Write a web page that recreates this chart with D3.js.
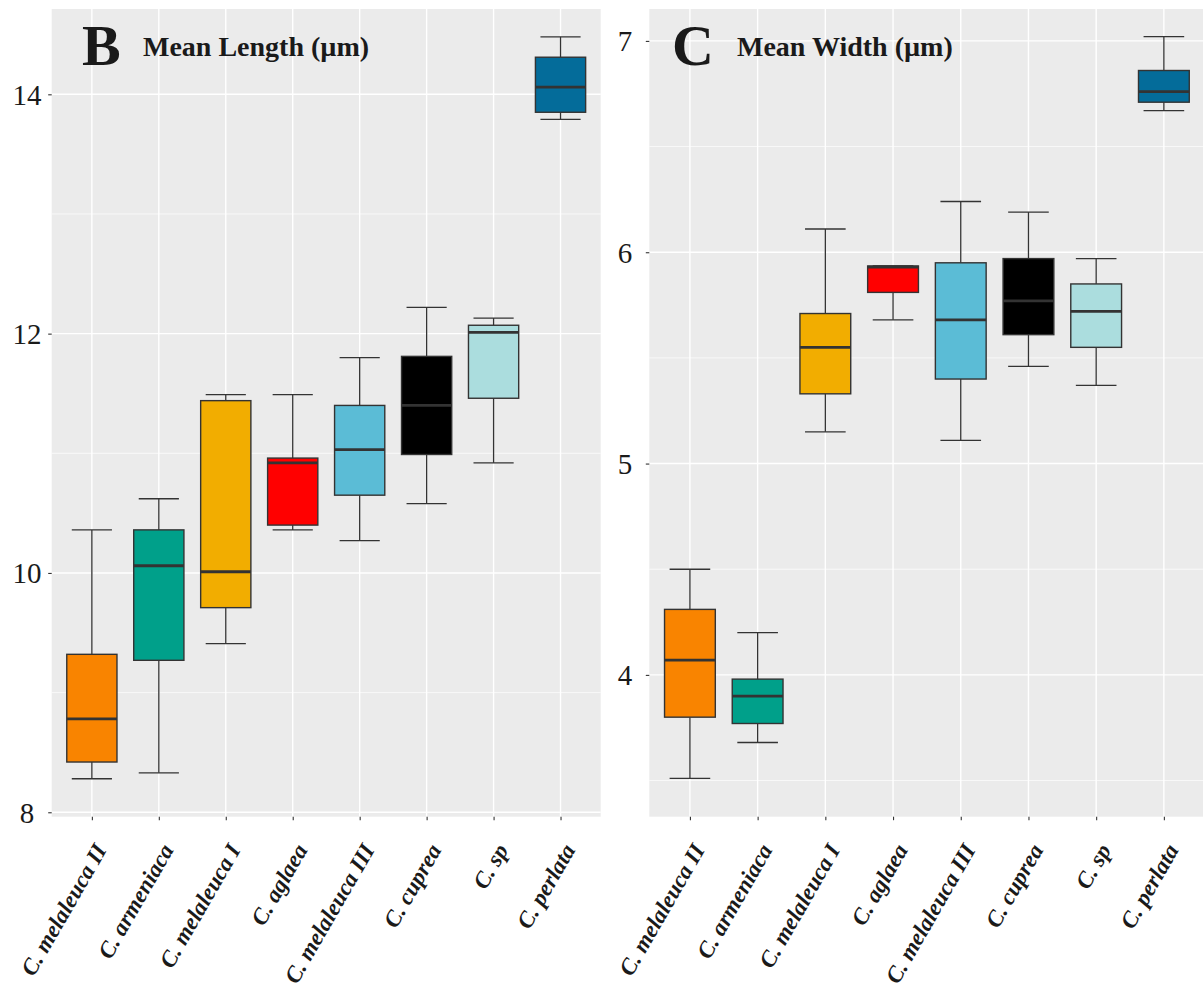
<!DOCTYPE html>
<html>
<head>
<meta charset="utf-8">
<script src="https://cdn.jsdelivr.net/npm/d3@7"></script>
<style>
  html, body { margin: 0; padding: 0; background: #ffffff; }
  svg { display: block; }
</style>
</head>
<body>
<svg id="chart" width="1203" height="992"></svg>
<script>
// ---------- DATA ----------
const categories = ["C. melaleuca II", "C. armeniaca", "C. melaleuca I", "C. aglaea",
                    "C. melaleuca III", "C. cuprea", "C. sp", "C. perlata"];
const boxColors = ["#F98400", "#00A08A", "#F2AD00", "#FF0000",
                   "#5BBCD6", "#000000", "#ABDDDE", "#046C9A"];

// Mean Length (µm)
const lenMin = [8.28, 8.33, 9.41, 10.36, 10.27, 10.58, 10.92, 13.79];
const lenQ1  = [8.42, 9.27, 9.71, 10.40, 10.65, 10.99, 11.46, 13.85];
const lenMed = [8.78, 10.06, 10.01, 10.92, 11.03, 11.40, 12.01, 14.06];
const lenQ3  = [9.32, 10.36, 11.44, 10.96, 11.40, 11.81, 12.07, 14.31];
const lenMax = [10.36, 10.62, 11.49, 11.49, 11.80, 12.22, 12.13, 14.48];
const lenTicks = [8, 10, 12, 14];
const lenMinor = [9, 11, 13];
const lenDomain = [7.963, 14.713];

// Mean Width (µm)
const widMin = [3.51, 3.68, 5.15, 5.68, 5.11, 5.46, 5.37, 6.67];
const widQ1  = [3.80, 3.77, 5.33, 5.81, 5.40, 5.61, 5.55, 6.71];
const widMed = [4.07, 3.90, 5.55, 5.93, 5.68, 5.77, 5.72, 6.76];
const widQ3  = [4.31, 3.98, 5.71, 5.935, 5.95, 5.97, 5.85, 6.86];
const widMax = [4.50, 4.20, 6.11, 5.935, 6.24, 6.19, 5.97, 7.02];
const widTicks = [4, 5, 6, 7];
const widMinor = [3.5, 4.5, 5.5, 6.5];
const widDomain = [3.329, 7.151];

// ---------- DRAW ----------
const svg = d3.select("#chart");
svg.append("rect").attr("width", 1203).attr("height", 992).attr("fill", "#ffffff");

const SERIF = "'Liberation Serif', 'DejaVu Serif', serif";

function panel(cfg) {
  const g = svg.append("g");
  const x = d3.scalePoint().domain(categories).range([cfg.x0, cfg.x1]).padding(0.6);
  const y = d3.scaleLinear().domain(cfg.domain).range([cfg.yBottom, cfg.yTop]);
  const step = x.step();

  // background
  g.append("rect")
    .attr("x", cfg.x0).attr("y", cfg.yTop)
    .attr("width", cfg.x1 - cfg.x0).attr("height", cfg.yBottom - cfg.yTop)
    .attr("fill", "#EBEBEB");

  // minor grid
  g.selectAll(".minor").data(cfg.minor).enter().append("line")
    .attr("x1", cfg.x0).attr("x2", cfg.x1)
    .attr("y1", d => y(d)).attr("y2", d => y(d))
    .attr("stroke", "#ffffff").attr("stroke-width", 0.7);
  // major grid
  g.selectAll(".major").data(cfg.ticks).enter().append("line")
    .attr("x1", cfg.x0).attr("x2", cfg.x1)
    .attr("y1", d => y(d)).attr("y2", d => y(d))
    .attr("stroke", "#ffffff").attr("stroke-width", 1.4);
  g.selectAll(".vgrid").data(categories).enter().append("line")
    .attr("x1", d => x(d)).attr("x2", d => x(d))
    .attr("y1", cfg.yTop).attr("y2", cfg.yBottom)
    .attr("stroke", "#ffffff").attr("stroke-width", 1.4);

  // y axis (ticks + labels)
  const yAxis = d3.axisLeft(y).tickValues(cfg.ticks).tickFormat(d3.format("d"))
    .tickSize(3.5).tickPadding(0);
  const ya = g.append("g").attr("transform", `translate(${cfg.x0},0)`).call(yAxis);
  ya.select(".domain").remove();
  ya.selectAll(".tick line").attr("stroke", "#333333").attr("stroke-width", 1.1);
  ya.selectAll(".tick text")
    .attr("x", cfg.labelX - cfg.x0)
    .attr("text-anchor", "middle")
    .attr("dy", "0.34em")
    .attr("fill", "#1a1a1a")
    .style("font-family", SERIF)
    .style("font-size", "29px");

  // x axis
  const xAxis = d3.axisBottom(x).tickSize(3.5).tickPadding(0);
  const xa = g.append("g").attr("transform", `translate(0,${cfg.yBottom})`).call(xAxis);
  xa.select(".domain").remove();
  xa.selectAll(".tick line").attr("stroke", "#333333").attr("stroke-width", 1.1);
  xa.selectAll(".tick text")
    .attr("x", 0).attr("y", 0).attr("dy", "0.35em")
    .attr("text-anchor", "end")
    .attr("transform", "translate(8,29) rotate(-60)")
    .attr("fill", "#1a1a1a")
    .style("font-family", SERIF)
    .style("font-style", "italic")
    .style("font-weight", "bold")
    .style("font-size", "23px");

  // boxes
  const data = categories.map((c, i) => ({
    c, color: boxColors[i],
    min: cfg.stats.min[i], q1: cfg.stats.q1[i], med: cfg.stats.med[i],
    q3: cfg.stats.q3[i], max: cfg.stats.max[i]
  }));
  const bw = step * 0.75, cw = step * 0.6;
  const bg = g.selectAll(".box").data(data).enter().append("g");
  // whiskers
  bg.append("line")
    .attr("x1", d => x(d.c)).attr("x2", d => x(d.c))
    .attr("y1", d => y(d.max)).attr("y2", d => y(d.q3))
    .attr("stroke", "#333333").attr("stroke-width", 1.3);
  bg.append("line")
    .attr("x1", d => x(d.c)).attr("x2", d => x(d.c))
    .attr("y1", d => y(d.q1)).attr("y2", d => y(d.min))
    .attr("stroke", "#333333").attr("stroke-width", 1.3);
  // caps
  bg.append("line")
    .attr("x1", d => x(d.c) - cw / 2).attr("x2", d => x(d.c) + cw / 2)
    .attr("y1", d => y(d.max)).attr("y2", d => y(d.max))
    .attr("stroke", "#333333").attr("stroke-width", 1.3);
  bg.append("line")
    .attr("x1", d => x(d.c) - cw / 2).attr("x2", d => x(d.c) + cw / 2)
    .attr("y1", d => y(d.min)).attr("y2", d => y(d.min))
    .attr("stroke", "#333333").attr("stroke-width", 1.3);
  // box
  bg.append("rect")
    .attr("x", d => x(d.c) - bw / 2).attr("width", bw)
    .attr("y", d => y(d.q3)).attr("height", d => y(d.q1) - y(d.q3))
    .attr("fill", d => d.color)
    .attr("stroke", "#333333").attr("stroke-width", 1.4);
  // median
  bg.append("line")
    .attr("x1", d => x(d.c) - bw / 2).attr("x2", d => x(d.c) + bw / 2)
    .attr("y1", d => y(d.med)).attr("y2", d => y(d.med))
    .attr("stroke", "#333333").attr("stroke-width", 2.8);

  // titles
  g.append("text")
    .attr("x", cfg.letterX).attr("y", 65)
    .attr("fill", "#1a1a1a")
    .style("font-family", SERIF).style("font-weight", "bold").style("font-size", "58px")
    .text(cfg.letter);
  g.append("text")
    .attr("x", cfg.titleX).attr("y", 56)
    .attr("fill", "#1a1a1a")
    .style("font-family", SERIF).style("font-weight", "bold").style("font-size", "28px")
    .text(cfg.title);
}

panel({
  x0: 51.7, x1: 600.7, yTop: 9, yBottom: 816.7,
  domain: lenDomain, ticks: lenTicks, minor: lenMinor, labelX: 27,
  stats: { min: lenMin, q1: lenQ1, med: lenMed, q3: lenQ3, max: lenMax },
  letter: "B", letterX: 82, title: "Mean Length (\u00B5m)", titleX: 143
});
panel({
  x0: 649.3, x1: 1204.5, yTop: 9, yBottom: 816.7,
  domain: widDomain, ticks: widTicks, minor: widMinor, labelX: 625,
  stats: { min: widMin, q1: widQ1, med: widMed, q3: widQ3, max: widMax },
  letter: "C", letterX: 672, title: "Mean Width (\u00B5m)", titleX: 737
});
</script>
</body>
</html>
